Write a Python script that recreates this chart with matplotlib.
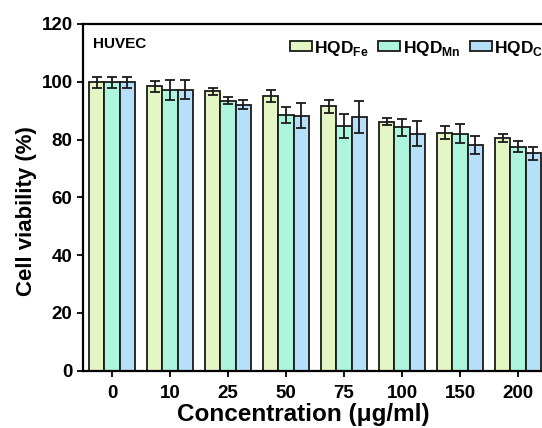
import numpy as np
import matplotlib
matplotlib.use("Agg")
import matplotlib.pyplot as plt

# data
concentrations = ["0", "10", "25", "50", "75", "100", "150", "200"]
series = ["Fe", "Mn", "Cu"]
fe_mean = [99.8, 98.4, 96.7, 95.0, 91.5, 86.2, 82.4, 80.5]
fe_err = [2.0, 1.8, 1.2, 2.1, 2.2, 1.2, 2.2, 1.5]
mn_mean = [99.8, 97.1, 93.5, 88.6, 84.8, 84.2, 82.0, 77.6]
mn_err = [1.9, 3.5, 1.3, 2.7, 4.2, 2.9, 3.3, 2.0]
cu_mean = [99.8, 97.3, 92.1, 88.3, 87.7, 82.0, 78.2, 75.3]
cu_err = [1.9, 3.3, 1.6, 4.3, 5.5, 4.3, 3.2, 2.2]

colors = ["#e3f6c3", "#aef5dd", "#b6e0fa"]

plt.rcParams["font.family"] = "Liberation Sans"
plt.rcParams["font.weight"] = "bold"
plt.rcParams["mathtext.fontset"] = "custom"
plt.rcParams["mathtext.bf"] = "Liberation Sans:bold"
plt.rcParams["mathtext.rm"] = "Liberation Sans:bold"

fig = plt.figure(figsize=(5.42, 4.28), dpi=100)
ax = fig.add_axes([83 / 542, (428 - 370.7) / 428, (547 - 83) / 542, (370.7 - 24) / 428])

x = np.arange(len(concentrations))
w = 0.26
means = [fe_mean, mn_mean, cu_mean]
errs = [fe_err, mn_err, cu_err]
for i in range(3):
    ax.bar(x + (i - 1) * w, means[i], w, yerr=errs[i], color=colors[i],
           edgecolor="#1a1a1a", linewidth=1.3, capsize=3.5,
           error_kw=dict(elinewidth=1.3, capthick=1.3, ecolor="#1a1a1a"),
           label=r"HQD$_{\mathbf{%s}}$" % series[i])

ax.set_xlim(-0.5, 7.5)
ax.set_ylim(0, 120)
ax.set_yticks([0, 20, 40, 60, 80, 100, 120])
ax.set_xticks(x)
ax.set_xticklabels(concentrations)
ax.tick_params(axis="both", labelsize=13.5, width=1.3, length=4, direction="out")
ax.tick_params(axis="x", pad=6.5)
for s in ax.spines.values():
    s.set_linewidth(1.6)

ax.set_xlabel("Concentration (\u03bcg/ml)", fontsize=17.5, fontweight="bold")
ax.set_ylabel("Cell viability (%)", fontsize=16, fontweight="bold")
ax.xaxis.set_label_coords(0.474, -0.093)
ax.yaxis.set_label_coords(-0.10, 0.46)

ax.text(93, 428 - 44, "HUVEC", transform=None, fontsize=11,
        fontweight="bold", va="center")

leg = ax.legend(loc="center left", ncol=3, frameon=False, fontsize=12.5,
                handlelength=1.25, handleheight=0.5, columnspacing=0.55,
                handletextpad=0.15, borderpad=0, borderaxespad=0,
                bbox_to_anchor=(290 / 542, 1 - 48 / 428),
                bbox_transform=fig.transFigure)

fig.savefig("out.png", dpi=100)
